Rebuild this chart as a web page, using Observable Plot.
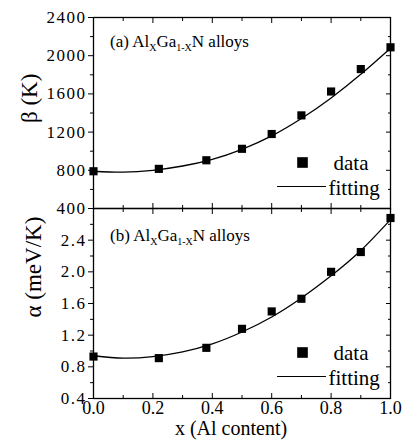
<!DOCTYPE html>
<html>
<head>
<meta charset="utf-8">
<script src="https://cdn.jsdelivr.net/npm/d3@7"></script>
<script src="https://cdn.jsdelivr.net/npm/@observablehq/plot@0.6"></script>
<style>
  body { margin: 0; background: #fff; }
  #chart { position: relative; width: 404px; height: 445px; font-family: "Liberation Serif", serif; }
  #chart svg { position: absolute; left: 0; overflow: visible; font-family: "Liberation Serif", serif; }
  #chart svg text { font-family: "Liberation Serif", serif; }
</style>
</head>
<body>
<div id="chart"></div>
<script>
// ---- data ----
const xData = [0, 0.22, 0.38, 0.5, 0.6, 0.7, 0.8, 0.9, 1.0];
const betaData = [790, 815, 905, 1025, 1180, 1375, 1625, 1860, 2088];
const alphaData = [0.93, 0.91, 1.04, 1.28, 1.50, 1.66, 2.00, 2.25, 2.68];

const xFit = [0, 0.1, 0.2, 0.3, 0.4, 0.5, 0.6, 0.7, 0.8, 0.9, 1.0];
const betaFit = [790, 780, 800, 845, 915, 1020, 1160, 1342, 1558, 1805, 2078];
const alphaFit = [0.94, 0.91, 0.93, 0.99, 1.09, 1.24, 1.43, 1.67, 1.95, 2.27, 2.66];

const xTicks = [0, 0.2, 0.4, 0.6, 0.8, 1.0];
const xMinor = [0.1, 0.3, 0.5, 0.7, 0.9];
const betaTicks = [400, 800, 1200, 1600, 2000, 2400];
const betaMinor = [600, 1000, 1400, 1800, 2200];
const alphaTicks = [0.4, 0.8, 1.2, 1.6, 2.0, 2.4];
const alphaMinor = [0.6, 1.0, 1.4, 1.8, 2.2, 2.6];

const legendLabels = ["data", "fitting"];
const W = 404, mL = 93, mR = 14;
const FONT = "Liberation Serif, serif";

const lineShape = { draw(context, l) { context.moveTo(0, 0); context.lineTo(0, -l); } };

function frameMarks(yTicks, yMinor, yFormat) {
  return [
    Plot.frame({ stroke: "black", strokeWidth: 1.3 }),
    Plot.axisY(yTicks, { anchor: "left", tickSize: 5, tickPadding: 2, fontSize: 17, fontFamily: FONT, tickFormat: yFormat, label: null }),
    Plot.axisY(yMinor, { anchor: "left", tickSize: 3, text: null, label: null }),
    Plot.axisY(yTicks, { anchor: "right", tickSize: -5, text: null, label: null }),
    Plot.axisY(yMinor, { anchor: "right", tickSize: -3, text: null, label: null }),
    Plot.axisX(xTicks, { anchor: "top", tickSize: -5, text: null, label: null }),
    Plot.axisX(xMinor, { anchor: "top", tickSize: -3, text: null, label: null })
  ];
}

function legendMarks() {
  return [
    Plot.dot([0], { frameAnchor: "bottom-right", dx: -88, dy: -46, symbol: "square", r: 6, fill: "black" }),
    Plot.text([legendLabels[0]], { frameAnchor: "bottom-right", dx: -57, dy: -39, text: d => d, textAnchor: "start", lineAnchor: "bottom", fontSize: 21, fontFamily: FONT }),
    Plot.text([legendLabels[1]], { frameAnchor: "bottom-right", dx: -62, dy: -14, text: d => d, textAnchor: "start", lineAnchor: "bottom", fontSize: 21, fontFamily: FONT }),
    Plot.vector([0], { frameAnchor: "bottom-right", dx: -113, dy: -22, length: 48, rotate: 90, anchor: "start", shape: lineShape, stroke: "black", strokeWidth: 1.2 })
  ];
}

const topPlot = Plot.plot({
  width: W, height: 209,
  marginLeft: mL, marginRight: mR, marginTop: 17, marginBottom: 1,
  style: { fontFamily: FONT, color: "black", background: "transparent", top: "0px" },
  x: { domain: [0, 1] },
  y: { domain: [400, 2400] },
  marks: [
    ...frameMarks(betaTicks, betaMinor, d3.format("d")),
    Plot.axisX(xTicks, { anchor: "bottom", tickSize: -5, text: null, label: null }),
    Plot.axisX(xMinor, { anchor: "bottom", tickSize: -3, text: null, label: null }),
    Plot.line(xFit, { x: xFit, y: betaFit, curve: "natural", stroke: "black", strokeWidth: 1.3 }),
    Plot.dot(xData, { x: xData, y: betaData, symbol: "square", r: 4.6, fill: "black" }),
    Plot.text(["β (K)"], { frameAnchor: "left", dx: -64, dy: 10, rotate: -90, text: d => d, fontSize: 23, fontFamily: FONT }),
    ...legendMarks()
  ]
});

const bottomPlot = Plot.plot({
  width: W, height: 238,
  marginLeft: mL, marginRight: mR, marginTop: 1, marginBottom: 47,
  style: { fontFamily: FONT, color: "black", background: "transparent", top: "207px" },
  x: { domain: [0, 1] },
  y: { domain: [0.4, 2.8] },
  marks: [
    ...frameMarks(alphaTicks, alphaMinor, d3.format(".1f")),
    Plot.axisX(xTicks, { anchor: "bottom", tickSize: -5, tickPadding: 8, fontSize: 18, fontFamily: FONT, tickFormat: d3.format(".1f"), label: null }),
    Plot.axisX(xMinor, { anchor: "bottom", tickSize: -3, text: null, label: null }),
    Plot.line(xFit, { x: xFit, y: alphaFit, curve: "natural", stroke: "black", strokeWidth: 1.3 }),
    Plot.dot(xData, { x: xData, y: alphaData, symbol: "square", r: 4.6, fill: "black" }),
    Plot.text(["α (meV/K)"], { frameAnchor: "left", dx: -60, dy: 14, rotate: -90, text: d => d, fontSize: 23, fontFamily: FONT }),
    Plot.text(["x (Al content)"], { frameAnchor: "bottom", dx: -11, dy: 36, text: d => d, fontSize: 20, fontFamily: FONT, lineAnchor: "bottom" }),
    ...legendMarks()
  ]
});

const chart = document.getElementById("chart");
chart.appendChild(topPlot);
chart.appendChild(bottomPlot);

// widen y tick labels a little, like the reference
d3.selectAll("#chart svg g[aria-label='y-axis tick label']").attr("letter-spacing", "1.5px");

// panel annotations with subscripts
function annotate(svg, letter, y) {
  const t = d3.select(svg).append("text")
    .attr("x", 110).attr("y", y)
    .attr("text-anchor", "start")
    .attr("font-family", FONT).attr("font-size", 17).attr("fill", "black");
  t.append("tspan").text(`(${letter}) Al`);
  t.append("tspan").attr("font-size", 10).attr("dy", 4).text("X");
  t.append("tspan").attr("dy", -4).text("Ga");
  t.append("tspan").attr("font-size", 10).attr("dy", 4).text("1-X");
  t.append("tspan").attr("dy", -4).text("N alloys");
}
annotate(topPlot, "a", 47);
annotate(bottomPlot, "b", 34);
</script>
</body>
</html>
